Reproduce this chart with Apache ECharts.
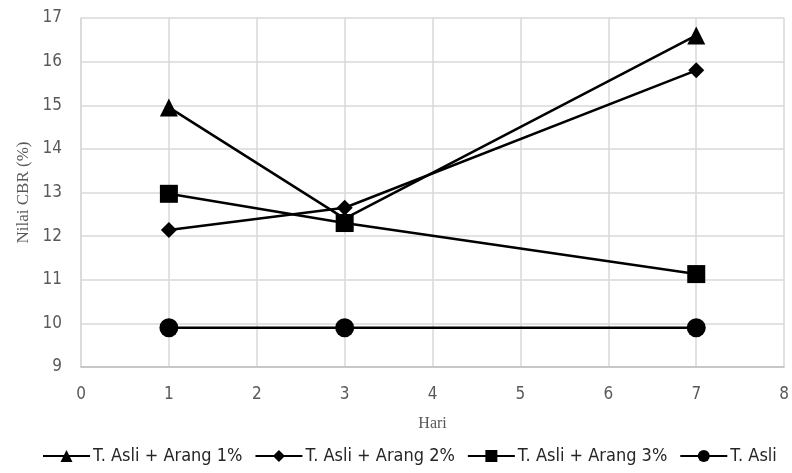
<!DOCTYPE html>
<html>
<head>
<meta charset="utf-8">
<script src="https://cdn.jsdelivr.net/npm/echarts@6/dist/echarts.min.js"></script>
<style>
  html, body { margin: 0; padding: 0; background: #fff; }
  #chart { width: 792px; height: 473px; }
</style>
</head>
<body>
<div id="chart"></div>
<script>
// CBR values per curing day for each soil mix
const days = [1, 3, 7];
const arang1 = [14.95, 12.4, 16.6];
const arang2 = [12.14, 12.65, 15.8];
const arang3 = [12.97, 12.3, 11.13];
const asli = [9.9, 9.9, 9.9];

const seriesNames = ['T. Asli + Arang 1%', 'T. Asli + Arang 2%', 'T. Asli + Arang 3%', 'T. Asli'];
const seriesValues = [arang1, arang2, arang3, asli];
const symbols = ['triangle', 'diamond', 'rect', 'circle'];
const symbolSizes = [18, 16, 18, 19];

const labelFont = 'Liberation Sans Narrow, DejaVu Sans Condensed, Liberation Sans';

const chart = echarts.init(document.getElementById('chart'));

const series = seriesNames.map((name, i) => ({
  name: name,
  type: 'line',
  data: days.map((d, j) => [d, seriesValues[i][j]]),
  symbol: symbols[i],
  symbolSize: symbolSizes[i],
  showAllSymbol: true,
  lineStyle: { color: '#000', width: 2.5 },
  itemStyle: { color: '#000' },
  z: 10 - i
}));

chart.setOption({
  animation: false,
  grid: { left: 81, right: 6, top: 18, bottom: 106 },
  xAxis: {
    type: 'value',
    min: 0, max: 8, interval: 1,
    name: 'Hari',
    nameLocation: 'middle',
    nameGap: 49,
    nameTextStyle: { fontFamily: 'Liberation Serif', fontSize: 16, color: '#595959' },
    axisLine: { lineStyle: { color: '#bfbfbf', width: 1.5 } },
    axisTick: { show: false },
    axisLabel: { fontFamily: labelFont, fontSize: 17, color: '#595959', margin: 19 },
    splitLine: { show: true, lineStyle: { color: '#d9d9d9', width: 1.5 } }
  },
  yAxis: {
    type: 'value',
    min: 9, max: 17, interval: 1,
    name: 'Nilai CBR (%)',
    nameLocation: 'middle',
    nameGap: 49,
    nameTextStyle: { fontFamily: 'Liberation Serif', fontSize: 17, color: '#595959' },
    axisLine: { show: true, lineStyle: { color: '#d9d9d9', width: 1.5 } },
    axisTick: { show: false },
    axisLabel: { fontFamily: labelFont, fontSize: 17, color: '#595959', margin: 19 },
    splitLine: { show: true, lineStyle: { color: '#d9d9d9', width: 1.5 } }
  },
  legend: {
    bottom: 3,
    left: 37,
    itemWidth: 47,
    itemHeight: 15,
    itemGap: 12,
    textStyle: { fontFamily: labelFont, fontSize: 18, color: '#262626', padding: [0, 0, 0, -2] },
    data: seriesNames
  },
  series: series
});
</script>
</body>
</html>
